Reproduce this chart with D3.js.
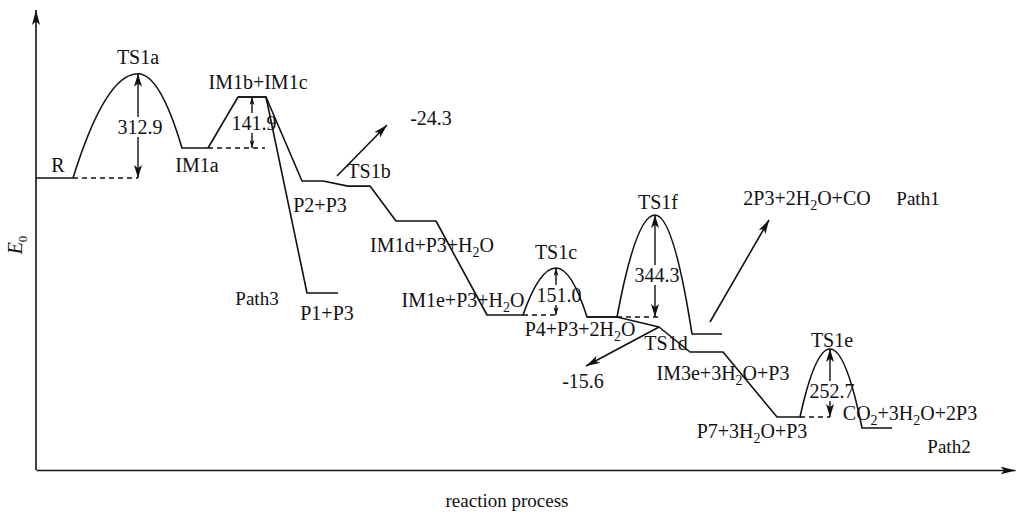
<!DOCTYPE html>
<html><head><meta charset="utf-8">
<script src="https://cdn.jsdelivr.net/npm/d3@7"></script>
<style>
body{margin:0;background:#fff}
</style>
</head><body>
<svg id="chart" width="1018" height="514" font-family="Liberation Serif, DejaVu Serif, Times New Roman, serif" font-size="19"></svg>
<script>
// ---------- DATA (reaction coordinate, relative energy) ----------
const states = [
  {id:"R",     kind:"level", x1:0.0,  x2:3.7,  E:0},
  {id:"TS1a",  kind:"peak",  x:10.2,  E:312.9},
  {id:"IM1a",  kind:"level", x1:14.6, x2:17.2, E:90},
  {id:"IM1bc", kind:"level", x1:20.2, x2:23.0, E:243},
  {id:"P2",    kind:"level", x1:26.6, x2:28.7, E:-9},
  {id:"TS1b",  kind:"level", x1:31.2, x2:33.4, E:-24.3},
  {id:"IM1d",  kind:"level", x1:36.0, x2:40.0, E:-129},
  {id:"IM1e",  kind:"level", x1:45.1, x2:48.7, E:-411},
  {id:"TS1c",  kind:"peak",  x:52.0,  E:-270},
  {id:"P4",    kind:"level", x1:55.1, x2:58.1, E:-417},
  {id:"TS1d",  kind:"point", x:62.3,  E:-447},
  {id:"IM3e",  kind:"level", x1:65.4, x2:68.7, E:-522},
  {id:"P7",    kind:"level", x1:74.1, x2:76.4, E:-717},
  {id:"TS1e",  kind:"peak",  x:79.4,  E:-513},
  {id:"CO2",   kind:"level", x1:82.6, x2:85.6, E:-750},
  {id:"TS1f",  kind:"peak",  x:61.9,  E:-111},
  {id:"PR1",   kind:"level", x1:65.6, x2:68.6, E:-468},
  {id:"P1",    kind:"level", x1:27.1, x2:30.2, E:-345}
];
const path2 = ["R","TS1a","IM1a","IM1bc","P2","TS1b","IM1d","IM1e","TS1c","P4","TS1d","IM3e","P7","TS1e","CO2"];
const path1 = ["P4","TS1f","PR1"];
const path3 = ["IM1bc","P1"];

const barrierValues = ["312.9","141.9","151.0","344.3","252.7"];
const barrierBase   = ["R","IM1a","IM1e","P4","P7"];
const barrierTop    = [312.9, 243, -270, -111, -513];
const barrierX      = [10.2, 21.6, 52.0, 61.9, 79.4];
const barrierDashTo = [10.2, 22.9, 52.0, 62.6, 79.4];
const barrierTextAt = [[10.4,132],[21.8,144],[52.3,-372],[62.1,-312],[79.6,-660]];
const barrierHead   = ["big","small","small","big","big"];

const labelTexts = ["TS1a","R","IM1a","IM1b+IM1c","TS1b","P2+P3","-24.3","IM1d+P3+H_2O","IM1e+P3+H_2O",
  "Path3","P1+P3","TS1c","P4+P3+2H_2O","TS1f","TS1d","-15.6","IM3e+3H_2O+P3","2P3+2H_2O+CO","Path1",
  "TS1e","P7+3H_2O+P3","CO_2+3H_2O+2P3","Path2"];
const labelAt = [[10.2,342],[2.2,18],[16.1,18],[22.2,267],[33.3,0],[28.4,-102],[39.5,159],[39.6,-222],[42.7,-387],
  [22.1,-381],[29.1,-426],[52.0,-243],[54.4,-474],[62.2,-93],[63.0,-516],[54.7,-630],[68.7,-606],[77.1,-81],[88.2,-81],
  [79.6,-507],[71.6,-780],[87.4,-726],[91.3,-825]];

const arrowFrom = [[30.1,6],[62.3,-447],[67.4,-432]];
const arrowTo   = [[35.1,159],[55.0,-564],[73.3,-126]];

// ---------- CHART ----------
const svg = d3.select("#chart");
const FONT = "Liberation Serif, DejaVu Serif, Times New Roman, serif";
const X = d3.scaleLinear().domain([0, 97.9]).range([36, 1015]);
const Y = d3.scaleLinear().domain([-876, 504]).range([470, 10]);
const S = Object.fromEntries(states.map(s => [s.id, s]));

const defs = svg.append("defs");
function marker(id, len, wid) {
  defs.append("marker").attr("id", id).attr("markerUnits","userSpaceOnUse")
    .attr("viewBox", `0 0 ${len} ${wid}`).attr("refX", len).attr("refY", wid/2)
    .attr("markerWidth", len).attr("markerHeight", wid).attr("orient","auto")
    .append("path").attr("d", `M0,0L${len},${wid/2}L0,${wid}L${len*0.25},${wid/2}Z`).attr("fill","#111");
}
marker("big", 13, 8);
marker("small", 8, 5);
marker("axis", 15, 8);
marker("mid", 14, 8);

// axes
const xAxis = svg.append("g").attr("transform", `translate(0,${Y(-876)})`)
  .call(d3.axisBottom(X).ticks(0).tickSizeOuter(0));
xAxis.select(".domain").attr("stroke","#111").attr("stroke-width",1.6).attr("marker-end","url(#axis)");
const yAxis = svg.append("g").attr("transform", `translate(${X(0)},0)`)
  .call(d3.axisLeft(Y).ticks(0).tickSizeOuter(0));
yAxis.select(".domain").attr("stroke","#111").attr("stroke-width",1.6)
  .attr("d", `M0,${Y(-876)}V${Y(504)}`).attr("marker-end","url(#axis)");

function txt(size) {
  return svg.append("text").attr("font-family", FONT).attr("font-size", size || 20).attr("fill", "#111");
}
txt(19).attr("x", 507).attr("y", 507).attr("text-anchor","middle").text("reaction process");
const yt = txt(20).attr("transform","translate(22,245) rotate(-90)").attr("text-anchor","middle");
yt.append("tspan").attr("font-style","italic").text("E");
yt.append("tspan").attr("dy",5).attr("font-size",13).text("0");

// energy profile paths
function buildPath(ids) {
  const p = d3.path(); let prev = null;
  ids.forEach((id, i) => {
    const s = S[id];
    if (s.kind === "level") {
      if (i === 0) p.moveTo(X(s.x1), Y(s.E));
      else if (prev.kind === "peak") p.quadraticCurveTo(X((prev.x + s.x1) / 2), Y(prev.E), X(s.x1), Y(s.E));
      else p.lineTo(X(s.x1), Y(s.E));
      p.lineTo(X(s.x2), Y(s.E));
    } else if (s.kind === "peak") {
      p.quadraticCurveTo(X((prev.x2 + s.x) / 2), Y(s.E), X(s.x), Y(s.E));
    } else {
      p.lineTo(X(s.x), Y(s.E));
    }
    prev = s;
  });
  return p.toString();
}
[path2, path1, path3].forEach(ids => {
  svg.append("path").attr("d", buildPath(ids)).attr("fill","none")
    .attr("stroke","#111").attr("stroke-width",1.6).attr("stroke-linejoin","round");
});

// barrier annotations
barrierValues.forEach((v, i) => {
  const base = S[barrierBase[i]];
  const xa = X(barrierX[i]);
  svg.append("line").attr("x1", X(base.x2)).attr("x2", X(barrierDashTo[i]))
    .attr("y1", Y(base.E)).attr("y2", Y(base.E))
    .attr("stroke","#111").attr("stroke-width",1.3).attr("stroke-dasharray","5,4");
  const tb = Y(barrierTextAt[i][1]);
  svg.append("line").attr("x1", xa).attr("x2", xa).attr("y1", tb - 17).attr("y2", Y(barrierTop[i]))
    .attr("stroke","#111").attr("stroke-width",1.4).attr("marker-end", `url(#${barrierHead[i]})`);
  svg.append("line").attr("x1", xa).attr("x2", xa).attr("y1", tb + 3).attr("y2", Y(base.E))
    .attr("stroke","#111").attr("stroke-width",1.4).attr("marker-end", `url(#${barrierHead[i]})`);
  txt(20).attr("x", X(barrierTextAt[i][0])).attr("y", tb).attr("text-anchor","middle").text(v);
});

// single arrows
arrowFrom.forEach((a, i) => {
  svg.append("line").attr("x1", X(a[0])).attr("y1", Y(a[1]))
    .attr("x2", X(arrowTo[i][0])).attr("y2", Y(arrowTo[i][1]))
    .attr("stroke","#111").attr("stroke-width",1.6).attr("marker-end","url(#mid)");
});

// labels with subscripts
function richText(sel, str) {
  const parts = str.split(/_(\w)/);
  parts.forEach((pt, k) => {
    if (!pt) return;
    if (k % 2 === 1) sel.append("tspan").attr("dy", 5).attr("font-size", 14).text(pt);
    else sel.append("tspan").attr("dy", k > 0 ? -5 : 0).text(pt);
  });
}
labelTexts.forEach((t, i) => {
  const size = t.startsWith("Path") ? 19 : 20;
  const el = txt(size).attr("x", X(labelAt[i][0])).attr("y", Y(labelAt[i][1])).attr("text-anchor","middle");
  richText(el, t);
});
</script>
</body></html>
